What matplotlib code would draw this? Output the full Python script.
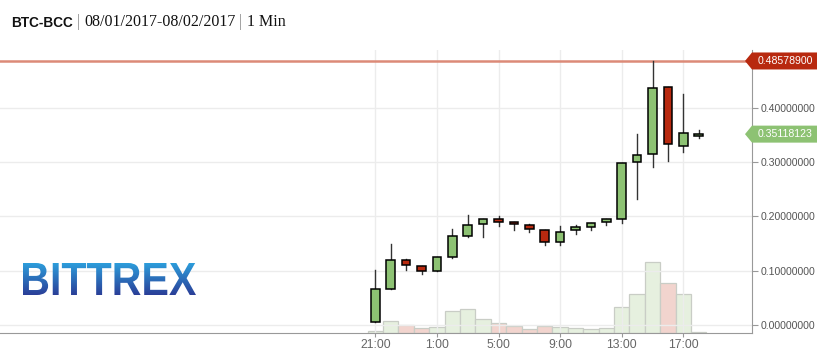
import matplotlib
matplotlib.use('Agg')
import matplotlib.pyplot as plt
import numpy as np
from matplotlib.patches import Polygon, PathPatch, Rectangle
from matplotlib.textpath import TextPath
from matplotlib.font_manager import FontProperties
from matplotlib.transforms import IdentityTransform, Affine2D
from matplotlib.colors import LinearSegmentedColormap

# hourly candles, 2017-08-01 21:00 -> 2017-08-02 18:00
hours = list(range(22))
opens = [0.0050, 0.0657, 0.1190, 0.1080, 0.0990, 0.1260, 0.1630, 0.1850, 0.1945, 0.1890, 0.1834,
         0.1740, 0.1520, 0.1740, 0.1800, 0.1890, 0.1945, 0.2994, 0.3140, 0.4370, 0.3290, 0.3475]
closes = [0.0657, 0.1190, 0.1100, 0.0990, 0.1246, 0.1630, 0.1834, 0.1945, 0.1890, 0.1850, 0.1760,
          0.1520, 0.1720, 0.1800, 0.1870, 0.1945, 0.2975, 0.3122, 0.4355, 0.3325, 0.3527, 0.35118123]
highs = [0.1010, 0.1490, 0.1210, 0.1080, 0.1260, 0.1760, 0.2020, 0.1945, 0.2000, 0.1900, 0.1860,
         0.1740, 0.1816, 0.1834, 0.1870, 0.1945, 0.2975, 0.3510, 0.485789, 0.4370, 0.4256, 0.3580]
lows = [0.0050, 0.0657, 0.1020, 0.0930, 0.0990, 0.1240, 0.1610, 0.1610, 0.1820, 0.1740, 0.1720,
        0.1470, 0.1470, 0.1670, 0.1740, 0.1834, 0.1870, 0.2310, 0.2910, 0.3010, 0.3178, 0.3435]
volumes = [2, 12, 8, 5.3, 6.3, 22, 24.3, 14, 10, 7, 4, 7, 6.3, 5, 4, 5, 26, 39, 71, 50, 39, 1]

xtick_pos = [0, 4, 8, 12, 16, 20]
xtick_labels = ['21:00', '1:00', '5:00', '9:00', '13:00', '17:00']
ytick_vals = [0.0, 0.1, 0.2, 0.3, 0.4]
high_mark = 0.48578900
last_mark = 0.35118123

green = '#8dc273'
red = '#b8290f'
vol_green = '#e6f0df'
vol_red = '#f2d4ce'
lab_font = 'Liberation Sans'

fig = plt.figure(figsize=(8.17, 3.52), dpi=100)
ax = fig.add_axes([0, 0.0531, 0.9208, 0.8049])
axv = ax.twinx()

# volume bars
vcols = [vol_green if c >= o else vol_red for o, c in zip(opens, closes)]
axv.bar(hours, volumes, width=1.0, color=vcols, edgecolor='#c9cdc6', linewidth=0.9)
axv.set_ylim(0, 283.3)
axv.axis('off')

ax.set_zorder(axv.get_zorder() + 1)
ax.patch.set_visible(False)

# candles
for x, o, c, h, l in zip(hours, opens, closes, highs, lows):
    col = green if c >= o else red
    ax.plot([x, x], [l, h], color='#333333', lw=1.0, zorder=3)
    bottom = min(o, c)
    height = max(abs(c - o), 0.0015)
    ax.add_patch(Rectangle((x - 0.28, bottom), 0.56, height, facecolor=col,
                           edgecolor='black', lw=1.1, zorder=4))

ax.axhline(high_mark, color='#dc8a78', lw=1.8, zorder=2)

ax.set_xlim(-24.37, 24.48)
ax.set_ylim(-0.0153, 0.506)
ax.set_xticks(xtick_pos)
ax.set_xticklabels(xtick_labels, family=lab_font)
ax.set_yticks(ytick_vals)
ax.set_yticklabels(['%.8f' % v for v in ytick_vals], family=lab_font)
ax.yaxis.tick_right()
ax.grid(True, color='#ececec', lw=1.0)
ax.set_axisbelow(True)
for s in ['top', 'left']:
    ax.spines[s].set_visible(False)
for s in ['right', 'bottom']:
    ax.spines[s].set_color('#999999')
ax.tick_params(axis='x', colors='#999999', labelcolor='#666666', labelsize=8.8, length=3, pad=1)
ax.tick_params(axis='y', colors='#999999', labelcolor='#555555', labelsize=7.6, length=4, pad=2)

# price labels on the right axis
def price_tag(val, color):
    y = ax.transData.transform((0, val))[1]
    h = 8.5
    pts = [(745, y), (752, y + h), (830, y + h), (830, y - h), (752, y - h)]
    fig.add_artist(Polygon(pts, closed=True, facecolor=color, edgecolor='none',
                           transform=IdentityTransform(), clip_on=False, zorder=10))
    fig.text(758, y, '%.8f' % val, color='white', fontsize=7.6, va='center', ha='left',
             family=lab_font, transform=IdentityTransform(), zorder=11)

price_tag(high_mark, red)
price_tag(last_mark, green)

# title
t1 = fig.text(11, 352 - 27, 'BTC-BCC', fontsize=9.8, fontweight='bold', color='#111111',
              family='Liberation Sans', transform=IdentityTransform(), va='baseline')
t2 = ax.annotate(' | ', xy=(1, 0), xycoords=t1, fontsize=11.5, color='#888888',
                 family='Liberation Serif', va='bottom', annotation_clip=False)
t3 = ax.annotate('08/01/2017-08/02/2017', xy=(1, 0), xycoords=t2, fontsize=11.5, color='#111111',
                 family='Liberation Serif', va='bottom', annotation_clip=False)
t4 = ax.annotate(' | ', xy=(1, 0), xycoords=t3, fontsize=11.5, color='#888888',
                 family='Liberation Serif', va='bottom', annotation_clip=False)
ax.annotate('1 Min', xy=(1, 0), xycoords=t4, fontsize=11.5, color='#111111',
            family='Liberation Serif', va='bottom', annotation_clip=False)

# BITTREX logo with vertical gradient
lax = fig.add_axes([0, 0, 1, 1])
lax.set_xlim(0, 817)
lax.set_ylim(0, 352)
lax.axis('off')
lax.set_zorder(ax.get_zorder() + 1)
tp = TextPath((0, 0), 'BITTREX', size=40, prop=FontProperties(family='Liberation Sans', weight='bold'))
ext = tp.get_extents()
x0, x1, yb, yt = 23, 196, 352 - 295, 352 - 263
tr = Affine2D().translate(-ext.x0, -ext.y0).scale((x1 - x0) / ext.width, (yt - yb) / ext.height).translate(x0, yb)
path = tr.transform_path(tp)
patch = PathPatch(path, facecolor='none', edgecolor='none', transform=lax.transData)
lax.add_patch(patch)
grad = np.linspace(0, 1, 100).reshape(-1, 1)
cmap = LinearSegmentedColormap.from_list('logo', ['#2d9ddb', '#2a3f98'])
im = lax.imshow(grad, extent=[x0, x1, yb, yt], cmap=cmap, aspect='auto', origin='upper')
im.set_clip_path(patch)

fig.savefig('out.png', dpi=100)
plt.close()
